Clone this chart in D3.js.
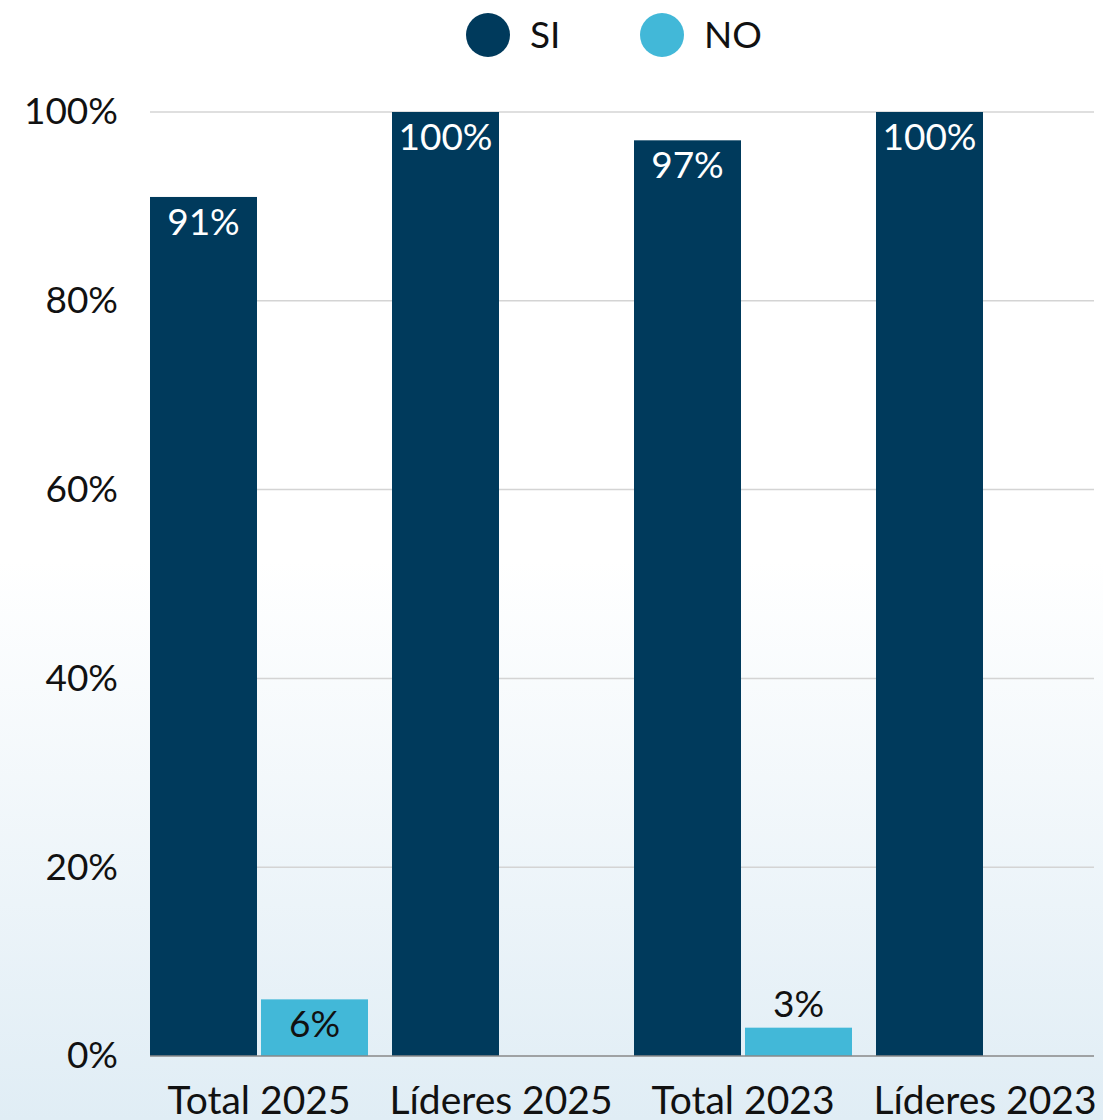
<!DOCTYPE html>
<html>
<head>
<meta charset="utf-8">
<script src="https://cdn.jsdelivr.net/npm/d3@7"></script>
<style>
  html, body { margin: 0; padding: 0; background: #fff; }
  svg { display: block; font-family: Lato, "Noto Sans", sans-serif; }
</style>
</head>
<body>
<div id="chart"></div>
<script>
'use strict'

// data
const categories = ['Total 2025', 'Líderes 2025', 'Total 2023', 'Líderes 2023']
const seriesNames = ['SI', 'NO']
const siValues = [91, 100, 97, 100]
const noValues = [6, null, 3, null]
const yTicks = [0, 20, 40, 60, 80, 100]

const colors = {SI: '#003a5c', NO: '#42b8d8'}

let width = 1103, height = 1120
let margin = {top: 112, right: 9, bottom: 64, left: 150}

let svg = d3.select('#chart')
  .append('svg')
  .attr('width', width)
  .attr('height', height)

// background gradient
let grad = svg.append('defs').append('linearGradient')
  .attr('id', 'bg')
  .attr('x1', 0).attr('y1', 0).attr('x2', 0).attr('y2', 1)
grad.append('stop').attr('offset', '0.5').attr('stop-color', '#ffffff')
grad.append('stop').attr('offset', '1').attr('stop-color', '#e0edf5')

svg.append('rect')
  .attr('width', width)
  .attr('height', height)
  .attr('fill', 'url(#bg)')

let x0 = d3.scaleBand()
  .domain(categories)
  .range([margin.left, width - margin.right])
  .paddingInner(24 / 242)
  .paddingOuter(0)

let x1 = d3.scaleBand()
  .domain(seriesNames)
  .range([0, x0.bandwidth()])
  .paddingInner(4 / 111)

let y = d3.scaleLinear()
  .domain([0, 100])
  .range([height - margin.bottom, margin.top])

// grid
svg.append('g')
  .selectAll('line')
  .data(yTicks.filter(d => d > 0))
  .join('line')
  .attr('x1', margin.left)
  .attr('x2', width - margin.right)
  .attr('y1', d => y(d))
  .attr('y2', d => y(d))
  .attr('stroke', '#d4d4d4')
  .attr('stroke-width', 1.5)

// y axis
let yAxis = d3.axisLeft(y)
  .tickValues(yTicks)
  .tickFormat(d => d + '%')
  .tickSize(0)
  .tickPadding(32)

svg.append('g')
  .attr('transform', 'translate(' + margin.left + ',0)')
  .call(yAxis)
  .call(g => g.select('.domain').remove())
  .selectAll('text')
  .attr('font-size', 37)
  .attr('fill', '#111')
  .attr('font-family', 'Lato, sans-serif')

let rows = categories.map((c, i) => ({
  cat: c,
  vals: [{key: 'SI', v: siValues[i]}, {key: 'NO', v: noValues[i]}].filter(d => d.v != null)
}))

let groups = svg.append('g')
  .selectAll('g')
  .data(rows)
  .join('g')
  .attr('transform', d => 'translate(' + x0(d.cat) + ',0)')

groups.selectAll('rect')
  .data(d => d.vals)
  .join('rect')
  .attr('x', d => x1(d.key))
  .attr('width', x1.bandwidth())
  .attr('y', d => y(d.v))
  .attr('height', d => y(0) - y(d.v))
  .attr('fill', d => colors[d.key])

groups.selectAll('text')
  .data(d => d.vals)
  .join('text')
  .attr('x', d => x1(d.key) + x1.bandwidth() / 2)
  .attr('y', d => {
    let h = y(0) - y(d.v)
    return h > 45 ? y(d.v) + 38 : y(d.v) - 11
  })
  .attr('text-anchor', 'middle')
  .attr('font-size', 37)
  .attr('fill', d => (d.key === 'SI' ? '#fff' : '#111'))
  .text(d => d.v + '%')

// baseline
svg.append('line')
  .attr('x1', margin.left)
  .attr('x2', width - margin.right)
  .attr('y1', y(0))
  .attr('y2', y(0))
  .attr('stroke', '#888')
  .attr('stroke-width', 1.5)

// x axis
let xAxis = d3.axisBottom(x0).tickSize(0).tickPadding(30)
svg.append('g')
  .attr('transform', 'translate(0,' + y(0) + ')')
  .call(xAxis)
  .call(g => g.select('.domain').remove())
  .selectAll('text')
  .attr('font-size', 39)
  .attr('fill', '#111')
  .attr('font-family', 'Lato, sans-serif')

// legend
let legend = svg.append('g')
  .selectAll('g')
  .data(seriesNames)
  .join('g')
  .attr('transform', (d, i) => 'translate(' + (488 + i * 174) + ',35)')

legend.append('circle')
  .attr('r', 22)
  .attr('fill', d => colors[d])

legend.append('text')
  .attr('x', 42)
  .attr('dy', '0.35em')
  .attr('font-size', 37)
  .attr('fill', '#111')
  .text(d => d)
</script>
</body>
</html>
